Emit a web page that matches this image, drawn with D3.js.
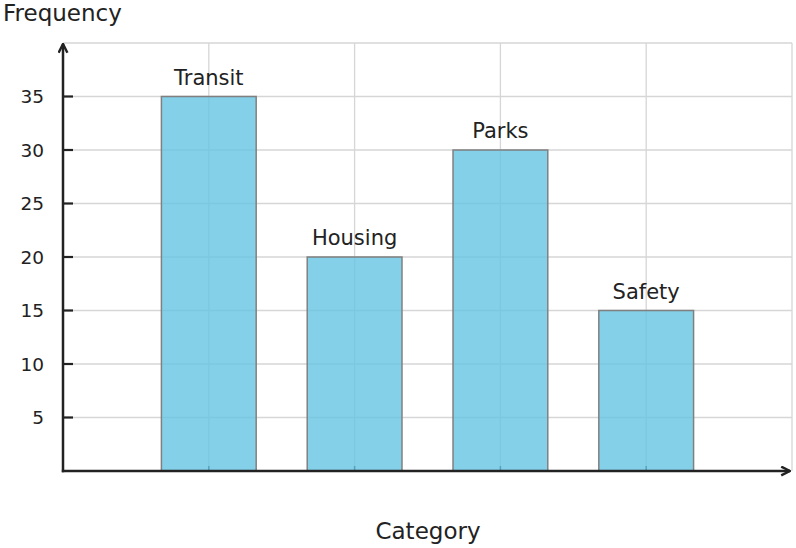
<!DOCTYPE html>
<html>
<head>
<meta charset="utf-8">
<script src="https://cdn.jsdelivr.net/npm/d3@7"></script>
<style>
  body { margin: 0; background: #fff; }
  text { font-family: "DejaVu Sans", sans-serif; fill: #222; }
</style>
</head>
<body>
<div id="chart"></div>
<script>
const categories = ["Transit", "Housing", "Parks", "Safety"];
const frequencies = [35, 20, 30, 15];
const yTicks = [5, 10, 15, 20, 25, 30, 35];

const width = 796, height = 548;
const margin = {top: 43, right: 4, bottom: 77, left: 63};
const innerW = width - margin.left - margin.right;
const innerH = height - margin.top - margin.bottom;

const svg = d3.select("#chart").append("svg")
    .attr("width", width)
    .attr("height", height);

const g = svg.append("g")
    .attr("transform", "translate(" + margin.left + "," + margin.top + ")");

// x positions: categories sit at 1..4 on a 0..5 range
const x = d3.scaleLinear().domain([0, 5]).range([0, innerW]);
const y = d3.scaleLinear().domain([0, 40]).range([innerH, 0]);
const barW = x(0.65) - x(0);

// grid
g.append("g").selectAll("line").data(yTicks.concat([40])).join("line")
    .attr("x1", 0).attr("x2", innerW)
    .attr("y1", d => y(d)).attr("y2", d => y(d))
    .attr("stroke", "#d6d6d6").attr("stroke-width", 1.3);
g.append("g").selectAll("line").data([1, 2, 3, 4, 5]).join("line")
    .attr("x1", d => x(d)).attr("x2", d => x(d))
    .attr("y1", 0).attr("y2", innerH)
    .attr("stroke", "#d6d6d6").attr("stroke-width", 1.3);

// x ticks (drawn under bars, show through)
g.append("g").selectAll("line").data([1, 2, 3, 4]).join("line")
    .attr("x1", d => x(d)).attr("x2", d => x(d))
    .attr("y1", innerH).attr("y2", innerH - 5)
    .attr("stroke", "#222").attr("stroke-width", 1.5);

// bars
g.append("g").selectAll("rect").data(frequencies).join("rect")
    .attr("x", (d, i) => x(i + 1) - barW / 2)
    .attr("y", d => y(d))
    .attr("width", barW)
    .attr("height", d => innerH - y(d))
    .attr("fill", "rgba(102, 196, 228, 0.8)")
    .attr("stroke", "#808080")
    .attr("stroke-width", 1.5);

// bar labels
g.append("g").selectAll("text").data(categories).join("text")
    .attr("x", (d, i) => x(i + 1))
    .attr("y", (d, i) => y(frequencies[i]) - 12)
    .attr("text-anchor", "middle")
    .attr("font-size", 21)
    .text(d => d);

// y axis ticks + labels
g.append("g").selectAll("line").data(yTicks).join("line")
    .attr("x1", 0).attr("x2", 10)
    .attr("y1", d => y(d)).attr("y2", d => y(d))
    .attr("stroke", "#222").attr("stroke-width", 2.2);
g.append("g").selectAll("text").data(yTicks).join("text")
    .attr("x", -19)
    .attr("y", d => y(d))
    .attr("dy", "0.36em")
    .attr("text-anchor", "end")
    .attr("font-size", 18.5)
    .text(d => d);

// axes with arrows
svg.append("defs").append("marker")
    .attr("id", "arrow")
    .attr("viewBox", "0 0 10 10")
    .attr("refX", 9).attr("refY", 5)
    .attr("markerWidth", 11).attr("markerHeight", 11)
    .attr("markerUnits", "userSpaceOnUse")
    .attr("orient", "auto")
  .append("path")
    .attr("d", "M1,1 L9,5 L1,9")
    .attr("fill", "none")
    .attr("stroke", "#222")
    .attr("stroke-width", 2.2);

g.append("line")
    .attr("x1", 0).attr("x2", 0)
    .attr("y1", innerH + 1.2).attr("y2", 1)
    .attr("stroke", "#222").attr("stroke-width", 2.5)
    .attr("marker-end", "url(#arrow)");
g.append("line")
    .attr("x1", -1.2).attr("x2", innerW - 2)
    .attr("y1", innerH).attr("y2", innerH)
    .attr("stroke", "#222").attr("stroke-width", 2.5)
    .attr("marker-end", "url(#arrow)");

// axis titles
svg.append("text")
    .attr("x", 3).attr("y", 21)
    .attr("font-size", 23)
    .text("Frequency");
svg.append("text")
    .attr("x", 428).attr("y", 539)
    .attr("text-anchor", "middle")
    .attr("font-size", 23)
    .text("Category");
</script>
</body>
</html>
